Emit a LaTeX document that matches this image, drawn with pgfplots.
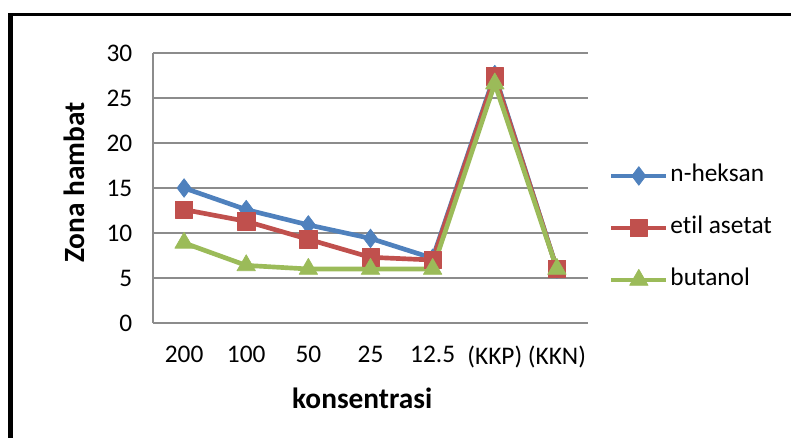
\documentclass[border=0pt]{standalone}
\usepackage{pgfplots}
\pgfplotsset{compat=1.18}
\usepackage{fontspec}
\setmainfont[Ligatures=NoCommon]{Carlito}
\definecolor{cblue}{HTML}{4F81BD}
\definecolor{cred}{HTML}{C0504D}
\definecolor{cgreen}{HTML}{9BBB59}
\definecolor{cgrid}{HTML}{8C8C8C}
\begin{document}
\begin{tikzpicture}
  % page = 791 x 438 px, 1px = 0.75pt
  \useasboundingbox (0,0) rectangle (593.25pt,-328.5pt);
  \draw[line width=3.75pt] (8.1pt,-400pt) -- (8.1pt,-9.6pt);
  \draw[line width=2pt] (6.2pt,-11pt) -- (700pt,-11pt);
  \begin{axis}[
    at={(114.75pt,-242.25pt)}, anchor=south west,
    scale only axis,
    width=326.25pt, height=202.5pt,
    font=\fontsize{19}{23}\selectfont,
    /pgf/number format/assume math mode=true,
    xmin=-0.5, xmax=6.5,
    ymin=0, ymax=30,
    xtick={0,...,6},
    xticklabels={200,100,50,25,12.5,(KKP),(KKN)},
    ytick={0,5,...,30},
    major tick length=0pt,
    axis lines*=left,
    axis line style={cgrid, line width=0.8pt},
    ymajorgrids,
    grid style={cgrid, line width=0.8pt},
    xticklabel style={yshift=-14pt},
    yticklabel style={xshift=-12pt},
    xlabel={\fontsize{22}{26}\selectfont\bfseries konsentrasi},
    ylabel={\fontsize{22}{26}\selectfont\bfseries Zona hambat},
    xlabel style={at={(axis description cs:0.481,-0.278)}, anchor=center},
    ylabel style={at={(axis description cs:-0.18,0.52)}, anchor=center},
    every axis plot/.append style={line width=3.5pt, line join=round},
    legend image code/.code={
      \draw[mark repeat=2,mark phase=2,#1] plot coordinates {(0pt,0pt) (20.5pt,0pt) (41pt,0pt)};},
    legend cell align=left,
    legend style={draw=none, fill=none, inner sep=0pt,
      at={(axis description cs:1.048,0.352)}, anchor=west,
      row sep=19pt,
      nodes={inner sep=1.5pt, text height=13pt, text depth=4pt},
      /tikz/every even column/.append style={column sep=0pt}},
  ]
    \addplot[cblue, mark=diamond*, mark size=7pt, mark options={line width=0.5pt}]
      coordinates {(0,15.0) (1,12.6) (2,10.9) (3,9.4) (4,7.2) (5,27.6) (6,6.0)};
    \addlegendentry{n-heksan}
    \addplot[cred, mark=square*, mark size=6.5pt, mark options={line width=0.5pt}]
      coordinates {(0,12.6) (1,11.3) (2,9.3) (3,7.3) (4,7.0) (5,27.4) (6,6.0)};
    \addlegendentry{etil asetat}
    \addplot[cgreen, mark=triangle*, mark size=8pt, mark options={line width=0.5pt}]
      coordinates {(0,8.9) (1,6.4) (2,6.0) (3,6.0) (4,6.0) (5,26.6) (6,6.0)};
    \addlegendentry{butanol}
  \end{axis}
\end{tikzpicture}
\end{document}
